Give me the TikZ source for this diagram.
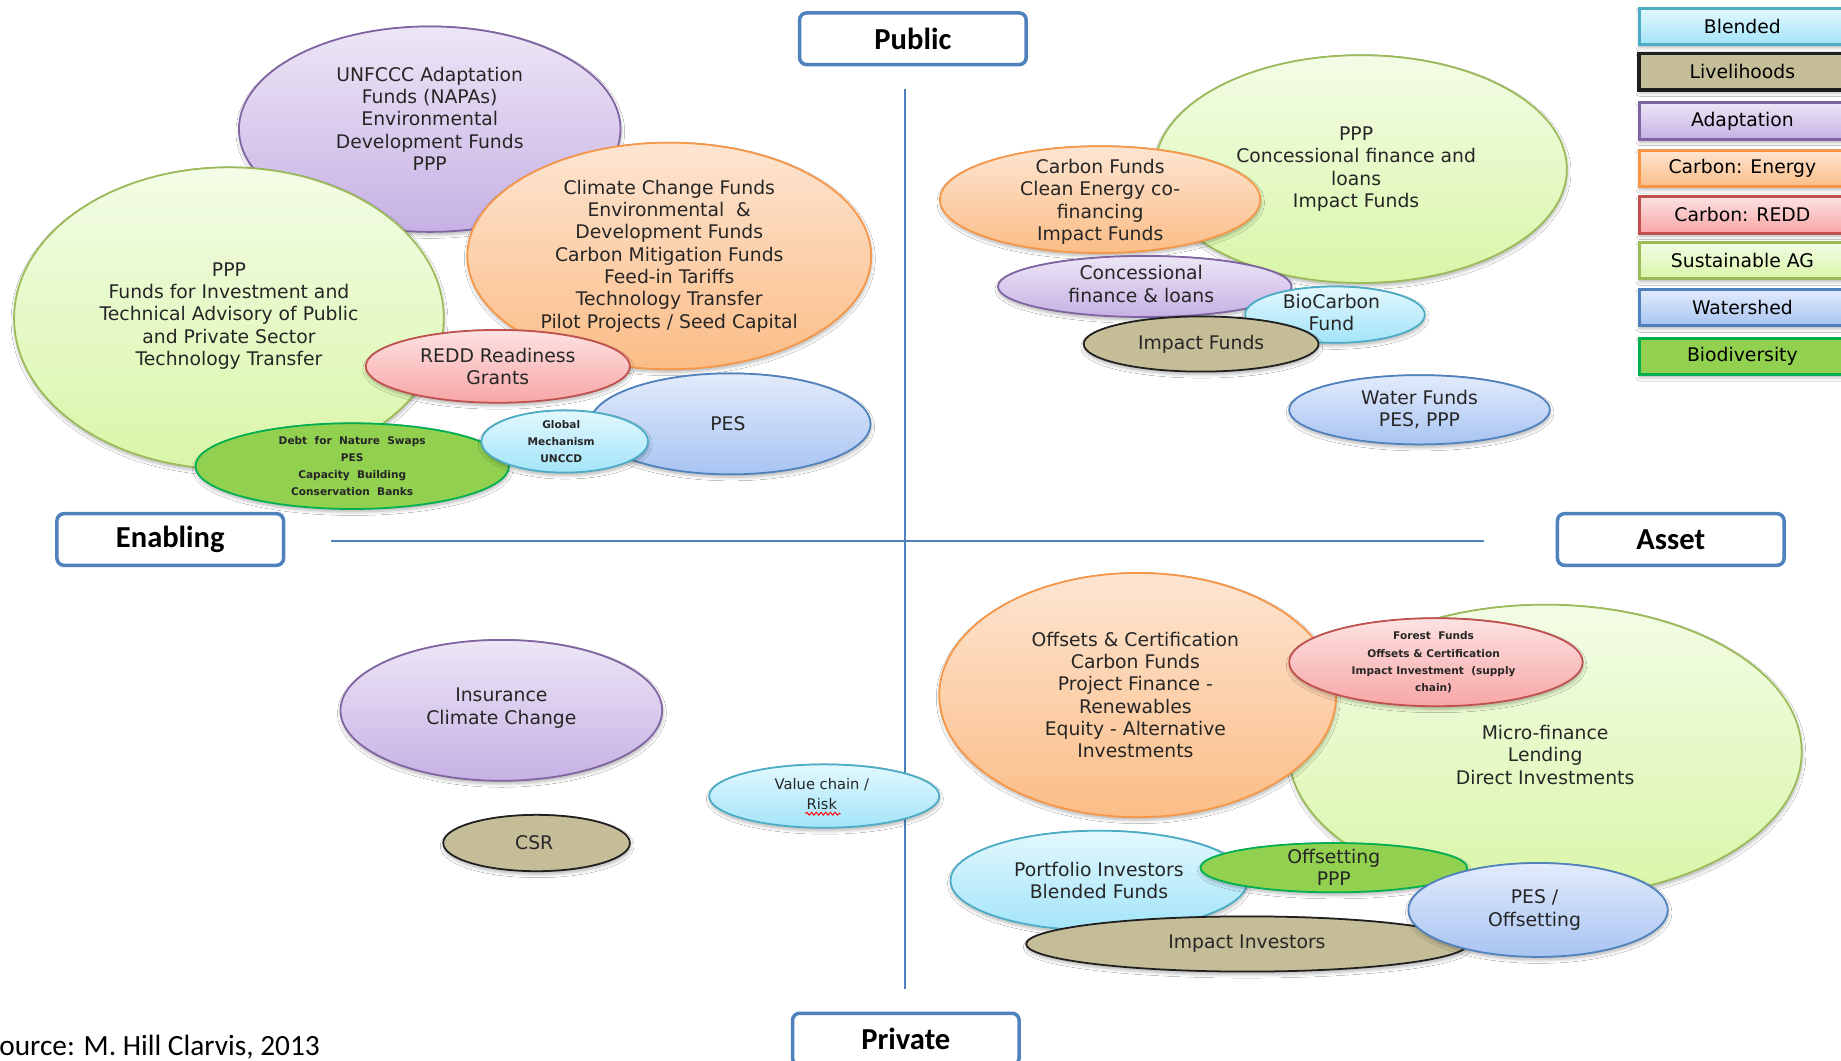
\documentclass[tikz,border=0pt]{standalone}
\usepackage{fontspec}
\setmainfont{DejaVu Sans}
\newfontfamily\calibrifont{Carlito}
\usetikzlibrary{shapes.geometric,shadows.blur,decorations.pathmorphing}

\begin{document}
\begin{tikzpicture}[x=1pt,y=-1pt,
   softshadow/.style={blur shadow={shadow xshift=0.5pt,shadow yshift=-2.5pt,shadow blur steps=5,shadow blur radius=3pt,shadow opacity=30}},
   bubble/.style={ellipse,line width=1.5pt,inner sep=0pt,softshadow},
   txt/.style={align=center,font=\fontsize{16}{19}\selectfont,text=black!85},
   smalltxt/.style={align=center,font=\fontsize{12.5}{17}\selectfont,text=black!85},
   tinytxt/.style={align=center,font=\fontsize{9}{14.5}\selectfont\bfseries,text=black!85},
   adaptcol/.style={draw=adaptline,top color=adapttop,bottom color=adaptbot},
   energycol/.style={draw=energyline,top color=energytop,bottom color=energybot},
   agricol/.style={draw=agriline,top color=agritop,bottom color=agribot},
   reddcol/.style={draw=reddline,top color=reddtop,bottom color=reddbot},
   watercol/.style={draw=waterline,top color=watertop,bottom color=waterbot},
   blendcol/.style={draw=blendline,top color=blendtop,bottom color=blendbot},
   livecol/.style={draw=liveline,fill=livefill},
   biocol/.style={draw=bioline,fill=biofill},
   axisbox/.style={draw=axisblue,line width=3pt,rounded corners=6pt,fill=white,
                   minimum width=193pt,minimum height=44pt,
                   font=\calibrifont\fontsize{26}{30}\selectfont\bfseries},
   axisline/.style={axisblue,line width=1.5pt},
   key/.style={rectangle,line width=2.5pt,minimum width=176pt,minimum height=31pt,
               font=\fontsize{16}{19}\selectfont,softshadow}
]
   \definecolor{adaptline}{HTML}{8064A2}\definecolor{adapttop}{HTML}{EDE6F6}\definecolor{adaptbot}{HTML}{C6B1E4}
   \definecolor{energyline}{HTML}{F79646}\definecolor{energytop}{HTML}{FDE5D2}\definecolor{energybot}{HTML}{FBBD86}
   \definecolor{agriline}{HTML}{9BBB59}\definecolor{agritop}{HTML}{F3FCE6}\definecolor{agribot}{HTML}{D9F6A8}
   \definecolor{reddline}{HTML}{C0504D}\definecolor{reddtop}{HTML}{FDE2E2}\definecolor{reddbot}{HTML}{F8A6A6}
   \definecolor{waterline}{HTML}{4F81BD}\definecolor{watertop}{HTML}{E2EBFB}\definecolor{waterbot}{HTML}{A8C4F2}
   \definecolor{blendline}{HTML}{4BACC6}\definecolor{blendtop}{HTML}{E3F8FD}\definecolor{blendbot}{HTML}{A3E4F9}
   \definecolor{liveline}{HTML}{1F1F1F}\definecolor{livefill}{HTML}{C4BD97}
   \definecolor{bioline}{HTML}{00B050}\definecolor{biofill}{HTML}{92D050}
   \definecolor{axisblue}{HTML}{4F81BD}

   \useasboundingbox[fill=white] (0,0) rectangle (1568,903);

   % axes
   \coordinate (axisN) at (771,76);
   \coordinate (axisS) at (771,842);
   \coordinate (axisW) at (282,461);
   \coordinate (axisE) at (1264,461);
   \draw[axisline] (axisN) -- (axisS);
   \draw[axisline] (axisW) -- (axisE);
   \node[axisbox] (public)   at (777.5,33)  {Public};
   \node[axisbox] (enabling) at (145,459.5) {Enabling};
   \node[axisbox] (asset)    at (1423,459.5) {Asset};
   \node[axisbox] (private)  at (771.5,885) {Private};

   % public / enabling
   \node[bubble,adaptcol,minimum width=325pt,minimum height=175pt,
         label={[txt,yshift=9pt]center:{UNFCCC Adaptation\\Funds (NAPAs)\\Environmental\\Development Funds\\PPP}}] (unfccc) at (366,110) {};
   \node[bubble,agricol,minimum width=366pt,minimum height=257pt,
         label={[txt,yshift=2pt]center:{PPP\\Funds for Investment and\\Technical Advisory of Public\\and Private Sector\\Technology Transfer}}] (pppleft) at (195,271) {};
   \node[bubble,energycol,minimum width=344pt,minimum height=193pt,
         label={[txt]center:{Climate Change Funds\\Environmental \ \&\\Development Funds\\Carbon Mitigation Funds\\Feed-in Tariffs\\Technology Transfer\\Pilot Projects / Seed Capital}}] (climate) at (570,218) {};
   \node[bubble,watercol,minimum width=239pt,minimum height=86pt,
         label={[txt,xshift=-2pt]center:PES}] (pesleft) at (622,361) {};
   \node[bubble,reddcol,minimum width=225pt,minimum height=62pt,
         label={[txt]center:{REDD Readiness\\Grants}}] (redd) at (424,312) {};
   \node[bubble,biocol,minimum width=267pt,minimum height=73pt,
         label={[tinytxt]center:{Debt \ for \ Nature \ Swaps\\PES\\Capacity \ Building\\Conservation \ Banks}}] (debt) at (300,397) {};
   \node[bubble,blendcol,minimum width=142pt,minimum height=53pt,
         label={[tinytxt,xshift=-3pt]center:{Global\\Mechanism\\UNCCD}}] (globalm) at (481,376) {};

   % public / asset
   \node[bubble,agricol,minimum width=351pt,minimum height=194pt,
         label={[txt,xshift=-4pt]center:{PPP\\Concessional finance and\\loans\\Impact Funds}}] (pppright) at (1159,144) {};
   \node[bubble,energycol,minimum width=273pt,minimum height=91pt,
         label={[txt,yshift=-2pt]center:{Carbon Funds\\Clean Energy co-\\financing\\Impact Funds}}] (carbonf) at (937,170) {};
   \node[bubble,adaptcol,minimum width=250pt,minimum height=52pt,
         label={[txt,xshift=-3pt,yshift=2pt]center:{Concessional\\finance \& loans}}] (concess) at (975,244) {};
   \node[bubble,blendcol,minimum width=153pt,minimum height=48pt,
         label={[txt,xshift=-3pt,yshift=2pt]center:{BioCarbon\\Fund}}] (biocarbon) at (1137,268) {};
   \node[bubble,livecol,minimum width=200pt,minimum height=47pt,
         label={[txt]center:{Impact Funds}}] (impactf) at (1023,293) {};
   \node[bubble,watercol,minimum width=222pt,minimum height=59pt,
         label={[txt]center:{Water Funds\\PES, PPP}}] (waterf) at (1209,349) {};

   % private / enabling
   \node[bubble,adaptcol,minimum width=274pt,minimum height=120pt,
         label={[txt,yshift=2pt]center:{Insurance\\Climate Change}}] (insur) at (427,605) {};
   \node[bubble,livecol,minimum width=159pt,minimum height=48pt,
         label={[txt,xshift=-2pt]center:CSR}] (csr) at (457,718) {};
   \node[bubble,blendcol,minimum width=196pt,minimum height=54pt,
         label={[smalltxt,xshift=-2pt,yshift=2pt]center:{Value chain /\\Risk}}] (valuechain) at (702,678) {};
   \draw[red,line width=0.8pt,decorate,decoration={snake,amplitude=1.2pt,segment length=4pt}] (686,693) -- (716,693);

   % private / asset
   \node[bubble,agricol,minimum width=437pt,minimum height=250pt,
         label={[txt,yshift=-3pt]center:{Micro-finance\\Lending\\Direct Investments}}] (microf) at (1316,640) {};
   \node[bubble,energycol,minimum width=338pt,minimum height=208pt,
         label={[txt,xshift=-2pt]center:{Offsets \& Certification\\Carbon Funds\\Project Finance -\\Renewables\\Equity - Alternative\\Investments}}] (offsets) at (969,592) {};
   \node[bubble,reddcol,minimum width=250pt,minimum height=75pt,
         label={[tinytxt,xshift=-2pt]center:{Forest \ Funds\\Offsets \& Certification\\Impact Investment \ (supply\\chain)}}] (forestf) at (1223,564) {};
   \node[bubble,blendcol,minimum width=253pt,minimum height=85pt,
         label={[txt]center:{Portfolio Investors\\Blended Funds}}] (portf) at (936,750) {};
   \node[bubble,biocol,minimum width=227pt,minimum height=42pt,
         label={[txt]center:{Offsetting\\PPP}}] (offsetppp) at (1136,739) {};
   \node[bubble,livecol,minimum width=376pt,minimum height=47pt,
         label={[txt]center:{Impact Investors}}] (impinv) at (1062,804) {};
   \node[bubble,watercol,minimum width=221pt,minimum height=80pt,
         label={[txt,xshift=-3pt]center:{PES /\\Offsetting}}] (pesoff) at (1310,775) {};

   % legend
   \node[key,blendcol]  (blendkey)  at (1484,22.5)  {Blended};
   \node[key,livecol,line width=3pt] (livekey) at (1484,61) {Livelihoods};
   \node[key,adaptcol]  (adaptkey)  at (1484,103)   {Adaptation};
   \node[key,energycol] (energykey) at (1484,143.5) {Carbon: Energy};
   \node[key,reddcol]   (reddkey)   at (1484,183)   {Carbon: REDD};
   \node[key,agricol]   (agrikey)   at (1484,222)   {Sustainable AG};
   \node[key,watercol]  (waterkey)  at (1484,262)   {Watershed};
   \node[key,biocol]    (biokey)    at (1484,303.5) {Biodiversity};

   \node[anchor=base east,font=\calibrifont\fontsize{25}{30}\selectfont] (source) at (276,899) {Source: M. Hill Clarvis, 2013};
\end{tikzpicture}
\end{document}
